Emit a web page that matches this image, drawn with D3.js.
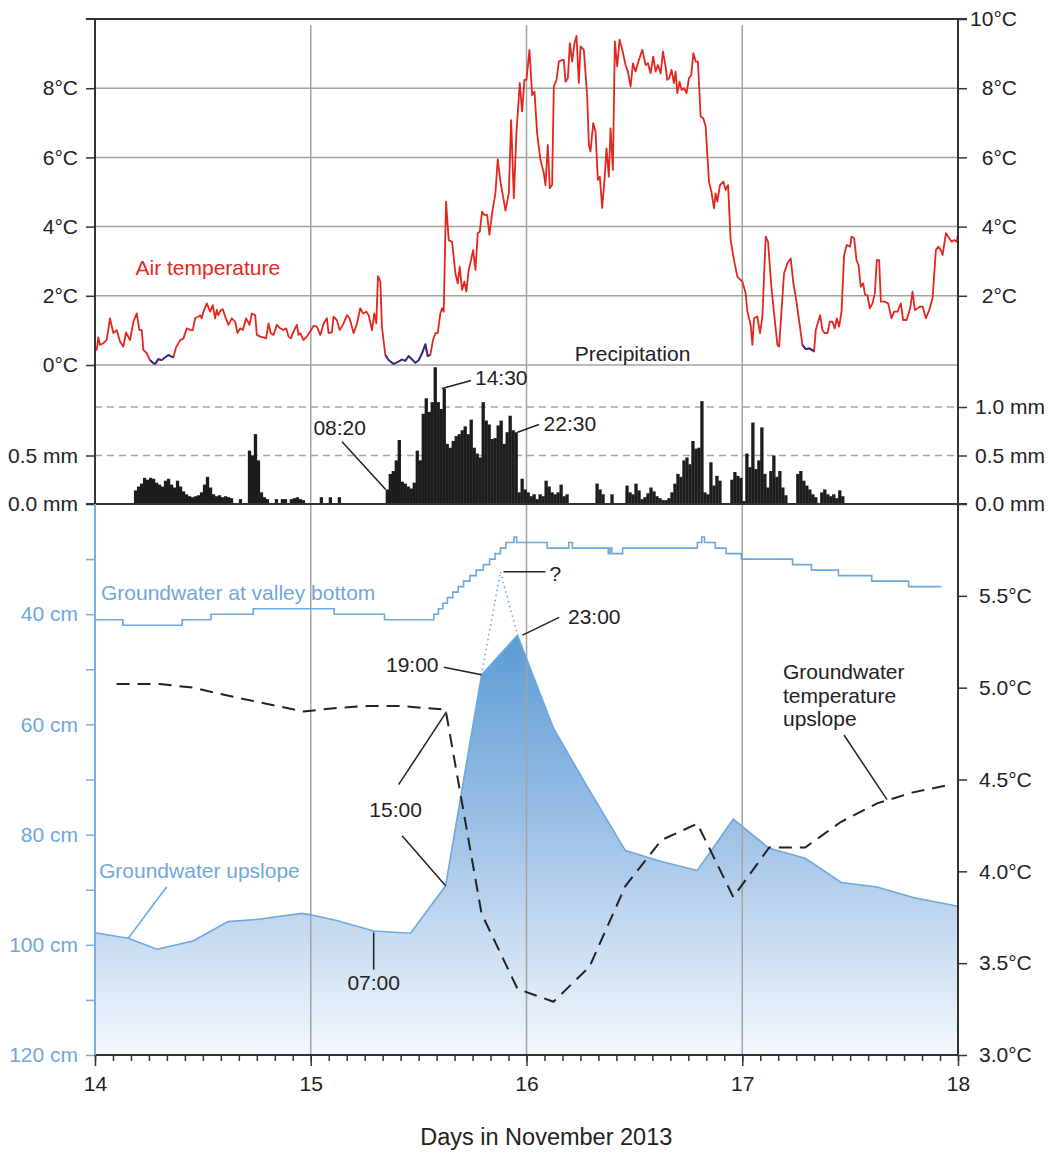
<!DOCTYPE html>
<meta charset="utf-8">
<head>
  <title>Air temperature, precipitation and groundwater, November 2013</title>
  <script src="https://d3js.org/d3.v7.min.js"></script>
  <style>
    body { margin: 0; background: #fff; }
    svg { display: block; background: #fff; }
    svg text { font-family: "Liberation Sans", Arial, sans-serif; font-size: 21px; fill: #222; }
    .axis line { stroke: #333; stroke-width: 1.5; }
    .axis.blue text { fill: #6fa8dc; }
    .axis.blue line { stroke: #7aaedc; }
  </style>
</head>
<body>
<div id="chart"></div>

<script>

// ---- data (time = hours since 14 Nov 2013 00:00) ----

// air temperature [hour, °C]
var airTemp = [[0,0.48],[0.19,0.44],[0.37,0.80],[0.56,0.58],[0.93,0.63],[1.30,0.72],[1.67,1.35],[2.04,0.92],[2.41,1.01],[2.78,0.68],[3.16,0.53],[3.45,0.94],[3.90,0.72],[4.27,1.25],[4.64,1.49],[4.94,1.01],[5.20,1.01],[5.38,0.44],[5.75,0.34],[6.12,0.14],[6.50,0.05],[6.68,0.03],[7.05,0.17],[7.42,0.14],[7.80,0.22],[8.17,0.29],[8.54,0.24],[8.72,0.22],[9.02,0.51],[9.47,0.72],[9.84,0.77],[10.21,1.06],[10.58,1.01],[10.88,1.01],[11.14,1.35],[11.51,1.40],[11.69,1.44],[11.88,1.35],[12.06,1.54],[12.44,1.78],[12.81,1.54],[13.10,1.73],[13.36,1.35],[13.55,1.59],[13.73,1.44],[13.99,1.59],[14.22,1.61],[14.48,1.40],[14.85,1.16],[15.22,1.35],[15.59,1.25],[15.85,0.92],[16.15,1.06],[16.44,1.01],[16.82,1.35],[17.19,1.16],[17.45,1.49],[17.82,1.44],[18.00,0.87],[18.37,0.82],[18.75,0.80],[19.04,0.77],[19.30,1.20],[19.56,0.92],[19.86,0.87],[20.23,1.16],[20.60,1.06],[20.97,1.01],[21.27,1.06],[21.53,0.82],[21.79,0.77],[22.09,0.97],[22.46,1.16],[22.64,0.87],[22.83,0.92],[23.20,0.72],[23.57,0.82],[23.94,0.97],[24.31,1.13],[24.68,1.11],[25.06,0.87],[25.43,1.20],[25.80,1.35],[25.98,0.92],[26.35,0.94],[26.54,1.40],[26.91,1.30],[27.21,1.01],[27.58,1.16],[28.03,1.44],[28.32,1.35],[28.77,0.92],[29.14,1.20],[29.51,1.64],[29.81,1.49],[30.18,1.54],[30.44,1.44],[30.81,1.01],[31.07,1.49],[31.29,1.20],[31.48,2.57],[31.74,2.41],[31.92,1.11],[32.29,0.29],[32.67,0.14],[33.22,0.03],[33.78,0.10],[34.15,0.16],[34.52,0.12],[34.89,0.26],[35.26,0.16],[35.64,0.06],[36.01,0.14],[36.38,0.34],[36.75,0.60],[37.01,0.26],[37.30,0.29],[37.60,0.72],[37.86,0.92],[38.12,0.92],[38.42,1.49],[38.60,1.64],[38.79,1.54],[39.05,4.72],[39.35,3.61],[39.72,3.56],[40.09,2.65],[40.35,2.36],[40.57,2.84],[40.83,2.17],[41.09,2.41],[41.31,2.12],[41.57,2.75],[41.83,3.03],[42.06,3.32],[42.32,2.75],[42.58,3.81],[42.80,3.85],[43.06,4.43],[43.32,4.34],[43.62,4.34],[43.88,3.76],[44.17,4.38],[44.54,4.96],[44.80,5.94],[45.10,5.30],[45.40,4.86],[45.66,4.46],[46.03,4.96],[46.29,7.08],[46.59,4.82],[46.88,6.70],[47.25,8.15],[47.51,7.33],[47.77,8.24],[47.99,8.24],[48.33,9.11],[48.63,7.80],[48.89,7.90],[49.18,6.70],[49.55,5.93],[49.93,5.54],[50.11,5.20],[50.37,6.36],[50.59,5.11],[50.85,5.20],[51.04,8.05],[51.34,8.24],[51.60,8.77],[51.97,8.82],[52.15,8.82],[52.34,8.19],[52.60,8.29],[52.82,9.30],[53.08,8.77],[53.34,9.30],[53.56,9.51],[53.82,8.15],[54.01,9.21],[54.38,9.11],[54.75,7.76],[54.94,6.36],[55.12,6.17],[55.42,6.99],[55.68,6.74],[55.94,5.35],[56.16,5.44],[56.42,4.54],[56.68,5.35],[56.90,6.26],[57.16,5.44],[57.35,6.84],[57.61,5.64],[57.83,9.35],[58.09,8.63],[58.35,9.40],[58.65,9.11],[59.02,8.67],[59.28,8.48],[59.58,8.05],[59.84,8.72],[60.13,8.48],[60.39,8.72],[60.88,9.11],[61.25,8.67],[61.51,8.72],[61.80,8.43],[62.10,8.91],[62.36,8.48],[62.62,8.67],[62.92,8.43],[63.18,9.06],[63.47,8.63],[63.66,8.24],[63.88,8.29],[64.14,8.53],[64.40,8.15],[64.59,8.48],[64.77,7.86],[65.03,8.19],[65.26,7.95],[65.52,8.00],[65.81,7.86],[66.07,8.29],[66.33,8.38],[66.56,9.01],[66.82,8.77],[67.07,8.77],[67.37,7.18],[67.67,7.13],[67.93,6.89],[68.30,5.30],[68.56,5.01],[68.86,4.53],[69.04,4.96],[69.23,4.72],[69.52,5.20],[69.90,5.30],[70.16,5.06],[70.42,5.20],[70.71,3.61],[71.08,3.03],[71.46,2.55],[72.01,2.41],[72.38,2.07],[72.57,1.54],[72.94,1.16],[73.13,0.58],[73.31,1.35],[73.68,1.40],[73.98,0.92],[74.24,1.40],[74.61,3.71],[74.87,3.56],[75.24,2.26],[75.54,1.49],[75.91,0.58],[76.10,0.53],[76.65,2.65],[77.02,2.94],[77.39,3.08],[77.69,2.36],[77.95,1.97],[78.32,1.30],[78.69,0.58],[79.06,0.46],[79.44,0.48],[79.81,0.43],[79.99,0.39],[80.18,1.01],[80.66,1.44],[80.92,1.01],[81.18,0.92],[81.48,0.92],[81.74,1.25],[82.03,1.25],[82.29,1.06],[82.52,1.35],[82.78,1.11],[83.04,1.54],[83.33,3.18],[83.63,3.47],[84.00,3.42],[84.15,3.71],[84.45,3.66],[84.71,3.03],[84.93,2.89],[85.19,2.26],[85.45,2.36],[85.67,2.02],[85.93,2.02],[86.19,1.64],[86.49,1.78],[86.75,2.07],[86.97,3.03],[87.23,3.03],[87.42,1.83],[87.86,1.83],[88.23,1.78],[88.60,1.35],[88.90,1.54],[89.27,1.54],[89.64,1.78],[89.90,1.30],[90.28,1.30],[90.68,1.64],[90.94,2.12],[91.20,1.59],[91.50,1.64],[91.80,1.69],[92.06,1.69],[92.43,1.35],[92.80,1.59],[93.17,1.93],[93.54,3.32],[93.80,3.42],[94.10,3.32],[94.29,3.18],[94.66,3.81],[95.03,3.66],[95.29,3.56],[95.58,3.61],[95.88,3.56],[96.0,3.81]];

// periods drawn in blue on the air temperature curve [from, to]
var frostPeriods = [[6.12, 8.72], [32.29, 37.30], [78.69, 79.99]];

// precipitation in mm per 20 minutes, two runs of values
var rainStep = 1 / 3;
var rainAStart = 4 + 20 / 60;   // 14 Nov 04:20
var rainA = [0.14,0.18,0.21,0.27,0.25,0.27,0.26,0.22,0.20,0.18,0.24,0.26,0.20,0.17,0.24,0.18,0.13,0.10,0.08,0.07,0.08,0.09,0.12,0.20,0.28,0.17,0.10,0.08,0.09,0.07,0.08,0.07,0.06,0,0,0.05,0,0,0.55,0.50,0.72,0.45,0.12,0.07,0.05,0,0,0.05,0,0.05,0.05,0,0.05,0.06,0.07,0.05,0.04,0,0,0,0,0,0.07,0,0,0.07,0,0,0.07];
var rainBStart = 32 + 20 / 60;  // 15 Nov 08:20
var rainB = [0.15,0.31,0.34,0.45,0.66,0.23,0.21,0.18,0.16,0.22,0.55,0.45,0.93,1.09,0.95,1.05,1.41,1.05,0.98,1.19,
             0.62,0.58,0.65,0.70,0.72,0.76,0.80,0.72,0.87,0.58,0.52,0.48,1.05,0.86,0.82,0.67,0.68,0.81,0.86,0.62,
             0.74,0.91,0.76,0.74,0.12,0.26,0.15,0.12,0.08,0.10,0.05,0.10,0.08,0.24,0.18,0.12,0.10,0.12,0.20,0.08,
             0.10,0,0,0,0,0,0,0,0,0,0.21,0.15,0.10,0,0,0.10,0,0,0,0,
             0.19,0.12,0.10,0.21,0.14,0.05,0.07,0.11,0.17,0.13,0.08,0.06,0.04,0.04,0.06,0.12,0.21,0.31,0.28,0.45,
             0.48,0.41,0.65,0.57,0.58,1.06,0.12,0.10,0.43,0.19,0.29,0.24,0,0,0,0.25,0.33,0.29,0.27,0.03,
             0.52,0.38,0.84,0.36,0.45,0.79,0.31,0.17,0.34,0.50,0.28,0.34,0.17,0.09,0,0,0,0.31,0.34,0.24,
             0.19,0.15,0.10,0.07,0,0.12,0.15,0.10,0.08,0.10,0.06,0.14,0.08];

// groundwater level at valley bottom [hour, depth cm] (stepped record)
var valleyDepth = [[0,41],[3.1,42],[9.7,41],[12.9,40],[17.6,39],[26.6,40],[32.2,41],[37.7,40],[38.2,39],[38.7,38],[39.2,37],[39.8,36],[40.4,35],[41.0,34],[41.7,33],[42.4,32],[43.2,31],[43.9,30],[44.5,29],[45.1,28],[45.7,27],[46.6,26],[46.9,27],[50.3,28],[52.7,27],[53.1,28],[57.1,29],[57.3,28],[57.5,29],[58.7,28],[67.0,27],[67.5,26],[67.8,27],[69.0,28],[70.2,29],[71.9,30],[77.6,31],[79.7,32],[82.7,33],[86.4,34],[90.5,35],[94.15,35]];

// groundwater level upslope [hour, depth cm]
var upslopeDepth = [[0,97.8],[3.7,98.8],[6.9,100.8],[10.9,99.3],[14.8,95.8],[18.0,95.4],[20.2,94.9],[23.0,94.3],[24.1,94.6],[26.9,95.6],[31.0,97.5],[35.1,97.9],[39.0,89.3],[43.0,51.0],[47.0,43.8],[51.0,60.7],[55.0,72.0],[59.0,82.9],[63.0,84.9],[67.0,86.5],[71.0,77.2],[75.0,82.5],[79.0,84.3],[83.0,88.7],[87.0,89.5],[91.0,91.4],[96.0,93.0]];
// uncertain peak between 19:00 and 23:00
var upslopeGuess = [[43.0,51.0],[45.1,32.3],[47.0,43.8]];

// groundwater temperature upslope [hour, °C]
var gwTemp = [[2.4,5.02],[7.2,5.02],[10.9,5.00],[15.4,4.95],[23.2,4.87],[26.9,4.89],[30.3,4.90],[34.0,4.90],[39.0,4.88],[43.0,3.77],[47.0,3.36],[51.0,3.29],[55.0,3.48],[59.0,3.92],[63.0,4.17],[67.0,4.26],[71.0,3.86],[75.0,4.13],[79.0,4.13],[83.0,4.27],[87.0,4.37],[91.0,4.43],[95.0,4.47]];

// ticks
var dayTicks = [0, 24, 48, 72, 96];
var dayLabels = ["14", "15", "16", "17", "18"];
var airTicksLeft = [0, 2, 4, 6, 8];
var airTicksRight = [2, 4, 6, 8, 10];
var rainTicksLeft = [0, 0.5];
var rainTicksRight = [0, 0.5, 1.0];
var depthTicks = [30, 40, 50, 60, 70, 80, 90, 100, 110, 120];
var depthLabels = [40, 60, 80, 100, 120];
var gwTempTicks = [3.0, 3.5, 4.0, 4.5, 5.0, 5.5];


// ---- layout ----
var margin = {top: 19, right: 91, bottom: 97, left: 95},
    width = 1049 - margin.left - margin.right,
    height = 1152 - margin.top - margin.bottom;

var root = d3.select("#chart")
  .append("svg")
    .attr("width", 1049)
    .attr("height", 1152);

var svg = root.append("g")
    .attr("transform", "translate(" + margin.left + "," + margin.top + ")");

var x = d3.scaleLinear().domain([0, 96]).range([0, width]);
var yAir = d3.scaleLinear().domain([0, 10]).range([346, 0]);
var yRain = d3.scaleLinear().domain([0, 1]).range([485, 388]);
var yDepth = d3.scaleLinear().domain([20, 120]).range([485, height]);
var yGwT = d3.scaleLinear().domain([3, 6]).range([height, 485]);

// gradient for the upslope groundwater area
var grad = root.append("defs").append("linearGradient")
    .attr("id", "gwGrad")
    .attr("gradientUnits", "userSpaceOnUse")
    .attr("x1", 0).attr("x2", 0)
    .attr("y1", yDepth(43.8)).attr("y2", height);
grad.append("stop").attr("offset", 0).attr("stop-color", "#5b9bd5");
grad.append("stop").attr("offset", 0.45).attr("stop-color", "#9cc0e6");
grad.append("stop").attr("offset", 1).attr("stop-color", "#f4f8fd");

// upslope groundwater area
svg.append("path")
  .datum(upslopeDepth)
  .attr("fill", "url(#gwGrad)")
  .attr("d", d3.area()
    .x(function(d) { return x(d[0]); })
    .y0(height)
    .y1(function(d) { return yDepth(d[1]); }));

// gridlines
svg.selectAll("line.hgrid")
  .data(airTicksLeft)
  .enter().append("line")
    .attr("x1", 0).attr("x2", width)
    .attr("y1", function(d) { return yAir(d); })
    .attr("y2", function(d) { return yAir(d); })
    .attr("stroke", "#a3a3a3").attr("stroke-width", 1.5);

svg.selectAll("line.rgrid")
  .data([0.5, 1.0])
  .enter().append("line")
    .attr("x1", 0).attr("x2", width)
    .attr("y1", function(d) { return yRain(d); })
    .attr("y2", function(d) { return yRain(d); })
    .attr("stroke", "#a8a8a8").attr("stroke-width", 1.3)
    .attr("stroke-dasharray", "7,5");

svg.selectAll("line.vgrid")
  .data(dayTicks.slice(1, 4))
  .enter().append("line")
    .attr("x1", function(d) { return x(d); })
    .attr("x2", function(d) { return x(d); })
    .attr("y1", 6).attr("y2", height)
    .attr("stroke", "#a3a3a3").attr("stroke-width", 1.5);

// precipitation bars
function rainBars(start, values) {
  return values.map(function(v, i) { return {t: start + i * rainStep, v: v}; })
    .filter(function(d) { return d.v > 0; });
}
var bars = rainBars(rainAStart, rainA).concat(rainBars(rainBStart, rainB));
svg.selectAll("rect.rain")
  .data(bars)
  .enter().append("rect")
    .attr("x", function(d) { return x(d.t); })
    .attr("y", function(d) { return yRain(d.v); })
    .attr("width", x(rainStep) - x(0) + 0.3)
    .attr("height", function(d) { return yRain(0) - yRain(d.v); })
    .attr("fill", "#1c1c1c");

// air temperature
var airLine = d3.line()
  .x(function(d) { return x(d[0]); })
  .y(function(d) { return yAir(d[1]); });

svg.append("path")
  .datum(airTemp)
  .attr("fill", "none")
  .attr("stroke", "#e3261e")
  .attr("stroke-width", 1.8)
  .attr("stroke-linejoin", "round")
  .attr("d", airLine);

frostPeriods.forEach(function(p) {
  svg.append("path")
    .datum(airTemp.filter(function(d) { return d[0] >= p[0] && d[0] <= p[1]; }))
    .attr("fill", "none")
    .attr("stroke", "#2b2f8e")
    .attr("stroke-width", 1.8)
    .attr("stroke-linejoin", "round")
    .attr("d", airLine);
});

// groundwater lines
var depthLine = d3.line()
  .x(function(d) { return x(d[0]); })
  .y(function(d) { return yDepth(d[1]); });

svg.append("path")
  .datum(upslopeDepth)
  .attr("fill", "none")
  .attr("stroke", "#6ea8dc")
  .attr("stroke-width", 1.6)
  .attr("d", depthLine);

svg.append("path")
  .datum(upslopeGuess)
  .attr("fill", "none")
  .attr("stroke", "#6ea8dc")
  .attr("stroke-width", 1.6)
  .attr("stroke-dasharray", "1.5,3.5")
  .attr("d", depthLine);

svg.append("path")
  .datum(valleyDepth)
  .attr("fill", "none")
  .attr("stroke", "#6ea8dc")
  .attr("stroke-width", 1.6)
  .attr("d", depthLine.curve(d3.curveStepAfter));

svg.append("path")
  .datum(gwTemp)
  .attr("fill", "none")
  .attr("stroke", "#222")
  .attr("stroke-width", 2)
  .attr("stroke-dasharray", "13,8")
  .attr("d", d3.line()
    .x(function(d) { return x(d[0]); })
    .y(function(d) { return yGwT(d[1]); }));

// ---- axes ----
function noDomain(g) { g.select(".domain").remove(); }

svg.append("g").attr("class", "axis")
  .call(d3.axisLeft(yAir).tickValues(airTicksLeft).tickFormat(function(d) { return d + "°C"; })
    .tickSize(9).tickPadding(8))
  .call(noDomain);

svg.append("g").attr("class", "axis")
  .attr("transform", "translate(" + width + ",0)")
  .call(d3.axisRight(yAir).tickValues(airTicksRight).tickFormat(function(d) { return d + "°C"; })
    .tickSize(9))
  .call(noDomain)
  .selectAll("text").attr("x", 59).attr("text-anchor", "end");

svg.append("g").attr("class", "axis")
  .call(d3.axisLeft(yRain).tickValues(rainTicksLeft).tickFormat(function(d) { return d3.format(".1f")(d) + " mm"; })
    .tickSize(9).tickPadding(8))
  .call(noDomain);

svg.append("g").attr("class", "axis")
  .attr("transform", "translate(" + width + ",0)")
  .call(d3.axisRight(yRain).tickValues(rainTicksRight).tickFormat(function(d) { return d3.format(".1f")(d) + " mm"; })
    .tickSize(9).tickPadding(8))
  .call(noDomain);

svg.append("g").attr("class", "axis blue")
  .call(d3.axisLeft(yDepth).tickValues(depthTicks)
    .tickFormat(function(d) { return depthLabels.indexOf(d) >= 0 ? d + " cm" : ""; })
    .tickSize(9).tickPadding(8))
  .call(noDomain);

svg.append("g").attr("class", "axis")
  .attr("transform", "translate(" + width + ",0)")
  .call(d3.axisRight(yGwT).tickValues(gwTempTicks).tickFormat(function(d) { return d3.format(".1f")(d) + "°C"; })
    .tickSize(9).tickPadding(12))
  .call(noDomain);

// x axis: 2-hourly minor ticks, labelled days
svg.append("g").attr("class", "axis")
  .attr("transform", "translate(0," + height + ")")
  .call(d3.axisBottom(x).tickValues(d3.range(0, 97, 2)).tickFormat("").tickSize(6))
  .call(noDomain);

svg.append("g").attr("class", "axis")
  .attr("transform", "translate(0," + height + ")")
  .call(d3.axisBottom(x).tickValues(dayTicks)
    .tickFormat(function(d, i) { return dayLabels[i]; })
    .tickSize(11).tickPadding(10))
  .call(noDomain);

// axis lines
svg.append("line").attr("x1", -9).attr("x2", width + 9).attr("y1", 0).attr("y2", 0)
  .attr("stroke", "#333").attr("stroke-width", 2);
svg.append("line").attr("x1", -9).attr("x2", width + 9).attr("y1", yRain(0)).attr("y2", yRain(0))
  .attr("stroke", "#333").attr("stroke-width", 2);
svg.append("line").attr("x1", 0).attr("x2", width).attr("y1", height).attr("y2", height)
  .attr("stroke", "#333").attr("stroke-width", 2);
svg.append("line").attr("x1", 0).attr("x2", 0).attr("y1", 0).attr("y2", yRain(0))
  .attr("stroke", "#333").attr("stroke-width", 2);
svg.append("line").attr("x1", 0).attr("x2", 0).attr("y1", yRain(0)).attr("y2", height)
  .attr("stroke", "#7aaedc").attr("stroke-width", 2);
svg.append("line").attr("x1", width).attr("x2", width).attr("y1", 0).attr("y2", height)
  .attr("stroke", "#333").attr("stroke-width", 2);

svg.append("text")
  .attr("x", x(50.2)).attr("y", height + 82)
  .attr("dy", "0.35em")
  .attr("text-anchor", "middle")
  .style("font-size", "23.5px")
  .text("Days in November 2013");

// ---- annotations ----
function note(px, py, str, anchor, color) {
  return svg.append("text")
    .attr("x", px).attr("y", py).attr("dy", "0.35em")
    .attr("text-anchor", anchor || "start")
    .style("fill", color || "#222")
    .text(str);
}
function leader(x1, y1, x2, y2, color) {
  svg.append("line")
    .attr("x1", x1).attr("y1", y1).attr("x2", x2).attr("y2", y2)
    .attr("stroke", color || "#222").attr("stroke-width", 1.5);
}

note(x(4.5), yAir(2.8), "Air temperature", "start", "#e3261e");
note(x(59.8), yAir(0.32), "Precipitation", "middle");

// 14:30 peak
var p1 = [x(38.6), yRain(1.19)];
leader(p1[0], p1[1], p1[0] + 29, p1[1] - 8);
note(p1[0] + 33, p1[1] - 10.5, "14:30");

// 22:30 end of heavy rain
var p2 = [x(46.67) + 3, yRain(0.74)];
leader(p2[0], p2[1], p2[0] + 21.5, p2[1] - 7.7);
note(p2[0] + 26, p2[1] - 9, "22:30");

// 08:20 start of rain
var p3 = [x(rainBStart), yRain(0.15)];
leader(p3[0], p3[1], p3[0] - 43.6, p3[1] - 47.8);
note(p3[0] - 46, p3[1] - 61.5, "08:20", "middle");

// 19:00 upslope
var p4 = [x(43), yDepth(51)];
leader(p4[0], p4[1], p4[0] - 37.8, p4[1] - 7.6);
note(p4[0] - 43, p4[1] - 10, "19:00", "end");

// 23:00 upslope peak
var p5 = [x(47) + 5, yDepth(43.8)];
leader(p5[0], p5[1], p5[0] + 36.7, p5[1] - 17.7);
note(p5[0] + 45.5, p5[1] - 18.3, "23:00");

// ? peak
var p6 = [x(45.1) + 3, yDepth(32.3)];
leader(p6[0], p6[1], p6[0] + 42, p6[1]);
note(p6[0] + 46, p6[1] + 2, "?");

// 15:00 on temperature and on upslope level
var p7 = [x(39), yGwT(4.88)];
var p8 = [x(39), yDepth(89.3)];
leader(p7[0] - 47, p7[1] + 75, p7[0] + 1, p7[1] + 2);
leader(p8[0] - 43.5, p8[1] - 50, p8[0], p8[1]);
note(p7[0] - 50, p7[1] + 100, "15:00", "middle");

// 07:00 upslope
var p9 = [x(31), yDepth(97.5)];
leader(p9[0], p9[1] + 1.5, p9[0], p9[1] + 38.6);
note(p9[0], p9[1] + 51.6, "07:00", "middle");

note(x(0) + 6, yDepth(36), "Groundwater at valley bottom", "start", "#6fa8dc");

var p10 = [x(3.7), yDepth(98.8)];
note(x(0) + 4, yDepth(86.6), "Groundwater upslope", "start", "#6fa8dc");
leader(p10[0] + 38.5, p10[1] - 51.5, p10[0], p10[1], "#6fa8dc");

var p11 = [x(88.1), yGwT(4.39)];
note(688, 653, "Groundwater");
note(688, 676.5, "temperature");
note(688, 700, "upslope");
leader(749, 716, p11[0], p11[1]);

</script>
</body>
